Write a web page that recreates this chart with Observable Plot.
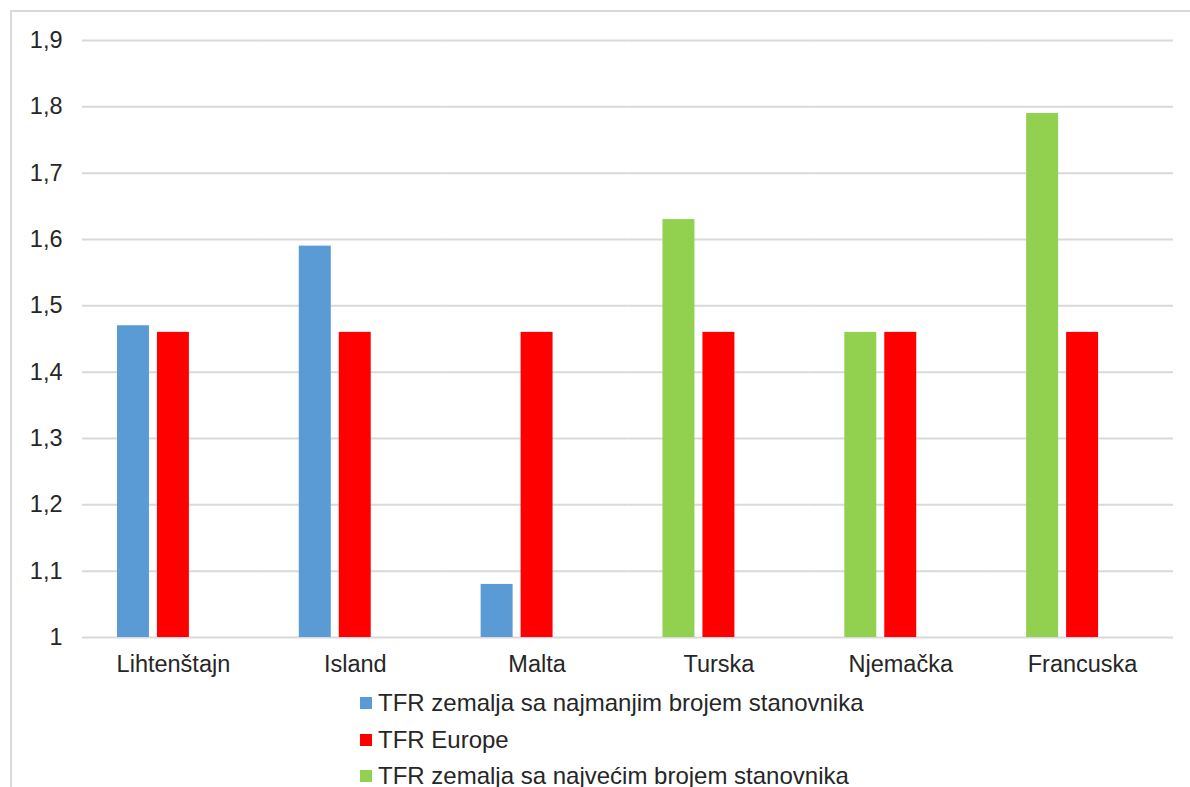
<!DOCTYPE html>
<html>
<head>
<meta charset="utf-8">
<script src="https://cdn.jsdelivr.net/npm/d3@7"></script>
<script src="https://cdn.jsdelivr.net/npm/@observablehq/plot@0.6"></script>
<style>
  html, body { margin: 0; padding: 0; background: #fff; }
  body { width: 1190px; height: 787px; position: relative; overflow: hidden; font-family: "Liberation Sans", Arial, sans-serif; }
  #frame { position: absolute; left: 10px; top: 10px; width: 1200px; height: 800px; border: 2px solid #d9d9d9; box-sizing: border-box; }
  #chart { position: absolute; left: 0; top: 0; }
  #legend { position: absolute; left: 360px; top: 685px; color: #262626; font-size: 24px; }
  #legend .row { display: flex; align-items: center; height: 36.5px; }
  #legend .sw { width: 12px; height: 12px; margin-right: 6px; }
</style>
</head>
<body>
<div id="frame"></div>
<div id="chart"></div>
<div id="legend"></div>
<script>
const countries = ["Lihtenštajn", "Island", "Malta", "Turska", "Njemačka", "Francuska"];
const seriesNames = ["TFR zemalja sa najmanjim brojem stanovnika", "TFR Europe", "TFR zemalja sa najvećim brojem stanovnika"];
const seriesColors = ["#5b9bd5", "#ff0000", "#92d050"];
const smallest = [1.47, 1.59, 1.08, null, null, null];
const europe = [1.46, 1.46, 1.46, 1.46, 1.46, 1.46];
const largest = [null, null, null, 1.63, 1.46, 1.79];
const yTicks = [1, 1.1, 1.2, 1.3, 1.4, 1.5, 1.6, 1.7, 1.8, 1.9];

const data = [];
countries.forEach((c, i) => {
  if (smallest[i] != null) data.push({country: c, slot: "a", series: seriesNames[0], value: smallest[i]});
  if (europe[i] != null) data.push({country: c, slot: "b", series: seriesNames[1], value: europe[i]});
  if (largest[i] != null) data.push({country: c, slot: "a", series: seriesNames[2], value: largest[i]});
});

const fmt = d => d === 1 ? "1" : d.toFixed(1).replace(".", ",");

const chart = Plot.plot({
  width: 1190,
  height: 690,
  marginLeft: 82,
  marginRight: 17,
  marginTop: 40,
  marginBottom: 53,
  style: { fontFamily: "Liberation Sans, Arial, sans-serif", fontSize: "23.5px", color: "#262626", background: "transparent" },
  fx: { domain: countries, paddingInner: 0, paddingOuter: 0, round: false, label: null },
  x: { domain: ["a", "b", "c"], paddingInner: 0.2, paddingOuter: 0.875, round: false, axis: null },
  y: { domain: [1, 1.9], label: null },
  color: { domain: seriesNames, range: seriesColors },
  marks: [
    Plot.ruleY(yTicks, { stroke: "#d9d9d9", strokeWidth: 2 }),
    Plot.rectY(data, { fx: "country", x: "slot", y1: 1, y2: "value", fill: "series" }),
    Plot.axisY({ ticks: yTicks, tickFormat: fmt, tickSize: 0, tickPadding: 20, fontSize: 23.5 }),
    Plot.axisFx({ anchor: "bottom", tickSize: 0, tickPadding: 18, fontSize: 23.5, label: null })
  ]
});
document.getElementById("chart").appendChild(chart);

const legend = document.getElementById("legend");
seriesNames.forEach((n, i) => {
  const row = document.createElement("div");
  row.className = "row";
  const sw = document.createElement("div");
  sw.className = "sw";
  sw.style.background = seriesColors[i];
  const t = document.createElement("span");
  t.textContent = n;
  row.appendChild(sw);
  row.appendChild(t);
  legend.appendChild(row);
});
</script>
</body>
</html>
